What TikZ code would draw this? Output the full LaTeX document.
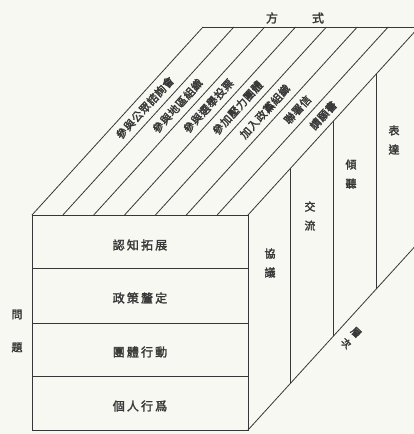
\documentclass[tikz,border=0pt]{standalone}
\usepackage{fontspec}
\newfontfamily\cjk[LetterSpace=18,FakeBold=2]{Noto Sans CJK TC}
\newfontfamily\cjkn[LetterSpace=4,FakeBold=2]{Noto Sans CJK TC}
\usetikzlibrary{calc}
\definecolor{paper}{RGB}{248,248,242}
\definecolor{ink}{RGB}{55,55,55}
\tikzset{box line/.style={draw=ink,line width=0.8pt},
  row label/.style={font=\cjk\fontsize{12}{14}\selectfont,text=ink,inner sep=0pt},
  strip label/.style={font=\cjkn\fontsize{11}{12}\selectfont,text=ink,rotate=47.7,inner sep=0pt},
  side label/.style={font=\cjk\fontsize{11}{19}\selectfont,text=ink,align=center,inner sep=0pt}}

\begin{document}
\begin{tikzpicture}[x=1pt,y=-1pt]
    \fill[paper] (0,0) rectangle (414,434);
    \useasboundingbox (0,0) rectangle (414,434);
    \clip (0,0) rectangle (414,434);
    % corners of the block
    \coordinate (ftl) at (32,215);
    \coordinate (ftr) at (248,215);
    \coordinate (fbl) at (32,430);
    \coordinate (fbr) at (248,430);
    \coordinate (btl) at (203,27);
    \coordinate (btr) at (419,27);
    \coordinate (bbr) at (419,242);

    % front face with four rows
    \draw[box line] (ftl) rectangle (fbr);
    \foreach \y in {268,323,376}
        \draw[box line] (32,\y) -- (248,\y);

    % top face: seven strips
    \draw[box line] (btl) -- (btr);
    \foreach \i in {0,...,7}
        \draw[box line] ($(ftl)+(\i*30.857,0)$) -- ++(171,-188);

    % right face: four columns in depth
    \draw[box line] (fbr) -- (bbr);
    \foreach \t in {0.25,0.5,0.75}
        \draw[box line] ($(ftr)!\t!(btr)$) -- ($(fbr)!\t!(bbr)$);

    % labels
    \node[row label] (r1) at (140,245) {認知拓展};
    \node[row label] (r2) at (140,298) {政策釐定};
    \node[row label] (r3) at (140,352) {團體行動};
    \node[row label] (r4) at (140,406) {個人行爲};
    \node[side label,font=\cjk\fontsize{11}{33}\selectfont] (wenti) at (17,331) {問\\題};
    \node[row label] (fangshi) at (295,18) {方\hspace{34pt}式};

    \foreach \i/\t/\lab in {0/0.57/參與公眾諮詢會,1/0.58/參與地區組織,2/0.58/參與選舉投票,
                            3/0.57/參加壓力團體,4/0.55/加入政黨組織,5/0.56/聯署信,6/0.53/請願書}
        \node[strip label] (s\i) at ($(ftl)+({30.857*(\i+0.5)+171*\t},{-188*\t})$) {\lab};

    \node[side label] (xieyi) at (270,263) {協\\議};
    \node[side label] (jiaoliu) at (310,216) {交\\流};
    \node[side label] (qingting) at (351,174) {傾\\聽};
    \node[side label] (biaoda) at (394,140) {表\\達};
    \node[side label,rotate=-42.3,font=\cjk\fontsize{10}{15}\selectfont] (cengci) at (351,338) {層\\次};
\end{tikzpicture}
\end{document}
